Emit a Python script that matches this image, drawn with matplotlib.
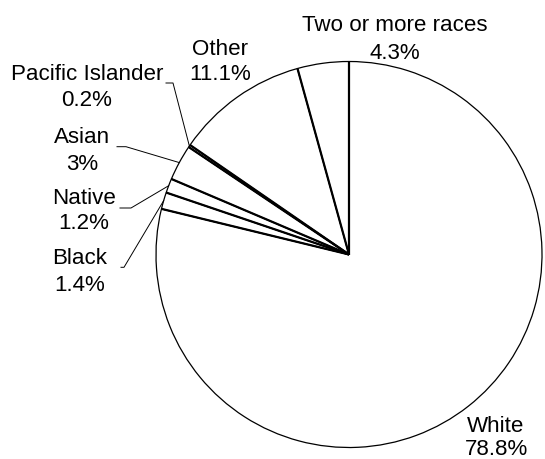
import numpy as np
import matplotlib
matplotlib.use('Agg')
import matplotlib.pyplot as plt

# ---- data ----
categories = ["White", "Black", "Native", "Asian", "Pacific Islander", "Other", "Two or more races"]
shares = [78.8, 1.4, 1.2, 3, 0.2, 11.1, 4.3]
pct_labels = ["78.8%", "1.4%", "1.2%", "3%", "0.2%", "11.1%", "4.3%"]

# ---- layout (image pixel coordinates, y down) ----
W, H = 545, 460
label_pos = {  # center x, baseline of name, baseline of pct
    "White": (496, 432, 455),
    "Black": (80, 264, 291),
    "Native": (84, 203.5, 229),
    "Asian": (82, 143, 169.5),
    "Pacific Islander": (87, 80.5, 106),
    "Other": (220, 55, 80),
    "Two or more races": (395, 31, 59),
}
leader_start = {  # start x, elbow x, y
    "Black": (121, 124, 268.3),
    "Native": (120, 131, 209),
    "Asian": (117, 126, 147.7),
    "Pacific Islander": (166, 173, 84),
}

plt.rcParams['font.family'] = ['Liberation Sans', 'DejaVu Sans']
fig = plt.figure(figsize=(W / 100, H / 100), dpi=100)
ax = fig.add_axes([0, 0, 1, 1])

cx, cy, R = 349, H - 255.5, 193
wedges, _ = ax.pie(shares, startangle=90, counterclock=False, center=(cx, cy), radius=R,
                   colors=['white'] * len(shares),
                   wedgeprops=dict(edgecolor='black', linewidth=0.9), frame=False)

# bold radial separators
for w in wedges:
    a = np.deg2rad(w.theta1)
    ax.plot([cx, cx + R * np.cos(a)], [cy, cy + R * np.sin(a)], color='black', lw=1.6,
            solid_capstyle='butt', zorder=3)

fs = 16.1
for w, name, pct in zip(wedges, categories, pct_labels):
    x, y1, y2 = label_pos[name]
    ax.text(x, H - y1, name, ha='center', va='baseline', fontsize=fs, color='black')
    ax.text(x, H - y2, pct, ha='center', va='baseline', fontsize=fs, color='black')
    if name in leader_start:
        sx, ex, ly = leader_start[name]
        mid = np.deg2rad((w.theta1 + w.theta2) / 2)
        px, py = cx + R * np.cos(mid), cy + R * np.sin(mid)
        ax.plot([sx, ex, px], [H - ly, H - ly, py], color='black', lw=0.7, zorder=4)

ax.set_xlim(0, W)
ax.set_ylim(0, H)
ax.set_aspect('auto')
ax.axis('off')
fig.savefig('out.png', dpi=100, facecolor='white')
